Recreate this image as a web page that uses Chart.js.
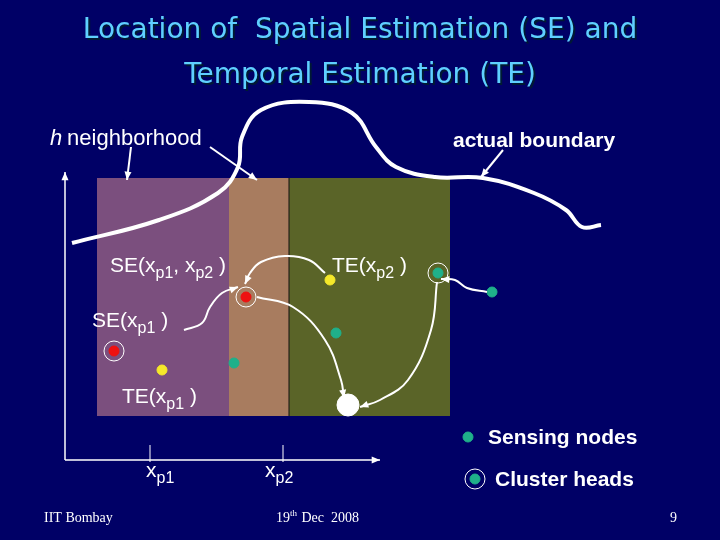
<!DOCTYPE html>
<html>
<head>
<meta charset="utf-8">
<script src="https://cdn.jsdelivr.net/npm/chart.js@4"></script>
<style>
  body { margin: 0; background: #000066; }
  canvas { display: block; }
</style>
</head>
<body>
<canvas id="slide" width="720" height="540"></canvas>
<script>
// regions: [x0, x1, y0, y1, colour]
const regions = [
  [97, 229, 178, 416, "#7b4f7e"],
  [229, 289, 178, 416, "#a87c5f"],
  [289, 450, 178, 416, "#5a6428"]
];
const boundary = [[72,243],[159,220],[218,193],[238,167],[242,137],[261,110],[309,102],[352,113],[376,147],[396,167],[435,177],[483,178],[534,193],[566,210],[582,227],[601,225]];
const arrows = [
  [[131,147],[127,180]],
  [[210,147],[257,180]],
  [[503,150],[481,177]],
  [[325,273],[309,260],[285,256],[261,262],[250,273],[245,284]],
  [[184,330],[202,323],[210,307],[222,293],[238,287]],
  [[257,297],[293,307],[325,340],[341,380],[344,398]],
  [[437,282],[431,330],[408,380],[380,400],[360,407]],
  [[487,292],[467,288],[455,280],[441,279]],
  [[65,460],[65,172]],
  [[65,460],[380,460]]
];
const sensingNodes = [[234,363],[336,333],[492,292],[468,437]];
const yellowNodes = [[330,280],[162,370]];
const redHeads = [[114,351],[246,297]];
const tealHeads = [[438,273],[475,479]];
const sinkNode = [[348,405]];
const tickX = [150, 283];

const pts = a => a.map(p => ({x: p[0], y: p[1]}));

// labels: [text, subscript, rest, x, y, sub2, rest2]
const labels = [
  ["SE(x", "p1", ", x", 110, 272, "p2", " )"],
  ["TE(x", "p2", " )", 332, 272],
  ["SE(x", "p1", " )", 92, 327],
  ["TE(x", "p1", " )", 122, 403],
  ["x", "p1", "", 146, 477],
  ["x", "p2", "", 265, 477]
];

const drawing = {
  id: "drawing",
  beforeDatasetsDraw(chart) {
    const c = chart.ctx, sx = chart.scales.x, sy = chart.scales.y;
    regions.forEach(r => {
      c.fillStyle = r[4];
      c.fillRect(sx.getPixelForValue(r[0]), sy.getPixelForValue(r[2]),
        sx.getPixelForValue(r[1]) - sx.getPixelForValue(r[0]),
        sy.getPixelForValue(r[3]) - sy.getPixelForValue(r[2]));
    });
    c.strokeStyle = "#111"; c.lineWidth = 1;
    c.beginPath(); c.moveTo(sx.getPixelForValue(289), sy.getPixelForValue(178));
    c.lineTo(sx.getPixelForValue(289), sy.getPixelForValue(416)); c.stroke();
    c.strokeStyle = "#fff";
    tickX.forEach(t => {
      c.beginPath(); c.moveTo(sx.getPixelForValue(t), sy.getPixelForValue(445));
      c.lineTo(sx.getPixelForValue(t), sy.getPixelForValue(462)); c.stroke();
    });
  },
  afterDatasetsDraw(chart) {
    const c = chart.ctx, sx = chart.scales.x, sy = chart.scales.y;
    // arrowheads
    chart.data.datasets.forEach((ds, i) => {
      if (!ds.arrow) return;
      const d = chart.getDatasetMeta(i).data;
      const a = d[d.length - 2], b = d[d.length - 1];
      const ang = Math.atan2(b.y - a.y, b.x - a.x);
      c.fillStyle = "#fff";
      c.beginPath();
      c.moveTo(b.x, b.y);
      c.lineTo(b.x - 9 * Math.cos(ang - 0.4), b.y - 9 * Math.sin(ang - 0.4));
      c.lineTo(b.x - 9 * Math.cos(ang + 0.4), b.y - 9 * Math.sin(ang + 0.4));
      c.closePath(); c.fill();
    });
    // rings around cluster heads
    c.strokeStyle = "#fff"; c.lineWidth = 1;
    redHeads.concat(tealHeads).forEach(p => {
      c.beginPath();
      c.arc(sx.getPixelForValue(p[0]), sy.getPixelForValue(p[1]), 10, 0, 2 * Math.PI);
      c.stroke();
    });
    // title
    c.textAlign = "center"; c.textBaseline = "alphabetic";
    c.font = "28px 'DejaVu Sans'";
    [["Location of  Spatial Estimation (SE) and", 38], ["Temporal Estimation (TE)", 83]].forEach(t => {
      c.fillStyle = "#001a33"; c.fillText(t[0], 362, t[1] + 2);
      c.fillStyle = "#5fd0ff"; c.fillText(t[0], 360, t[1]);
    });
    // text labels
    c.textAlign = "left"; c.fillStyle = "#fff";
    c.font = "italic 22px 'Liberation Sans'"; c.fillText("h", 50, 145);
    c.font = "22px 'Liberation Sans'"; c.fillText(" neighborhood", 61, 145);
    c.font = "bold 21px 'Liberation Sans'"; c.fillText("actual boundary", 453, 147);
    c.fillText("Sensing nodes", 488, 444);
    c.fillText("Cluster heads", 495, 486);
    labels.forEach(l => {
      let x = l[3];
      c.font = "21px 'Liberation Sans'"; c.fillText(l[0], x, l[4]); x += c.measureText(l[0]).width;
      c.font = "16px 'Liberation Sans'"; c.fillText(l[1], x, l[4] + 6); x += c.measureText(l[1]).width;
      c.font = "21px 'Liberation Sans'"; c.fillText(l[2], x, l[4]); x += c.measureText(l[2]).width;
      if (l[5]) {
        c.font = "16px 'Liberation Sans'"; c.fillText(l[5], x, l[4] + 6); x += c.measureText(l[5]).width;
        c.font = "21px 'Liberation Sans'"; c.fillText(l[6], x, l[4]);
      }
    });
    c.font = "14px 'Liberation Serif'";
    c.fillText("IIT Bombay", 44, 522);
    c.fillText("19", 276, 522);
    c.font = "9px 'Liberation Serif'"; c.fillText("th", 290, 516);
    c.font = "14px 'Liberation Serif'"; c.fillText(" Dec  2008", 298, 522);
    c.fillText("9", 670, 522);
  }
};

const lineSet = (p, arrow, w) => ({
  type: "line", data: pts(p), borderColor: "#fff", borderWidth: w, pointRadius: 0,
  tension: 0.4, fill: false, arrow: arrow
});
const dotSet = (p, col, r) => ({
  type: "scatter", data: pts(p), backgroundColor: col, borderColor: col, pointRadius: r
});

const datasets = [lineSet(boundary, false, 4)]
  .concat(arrows.map(a => lineSet(a, true, a.length === 2 && a[0][0] === 65 ? 1.5 : 2)))
  .concat([
    dotSet(sensingNodes, "#1fb08a", 5),
    dotSet(yellowNodes, "#f5e82a", 5),
    dotSet(redHeads, "#ee1111", 5),
    dotSet(tealHeads, "#1fb08a", 5),
    dotSet(sinkNode, "#ffffff", 11)
  ]);

new Chart(document.getElementById("slide"), {
  type: "scatter",
  data: { datasets: datasets },
  options: {
    responsive: false,
    animation: false,
    layout: { padding: 0, autoPadding: false },
    plugins: { legend: { display: false }, tooltip: { enabled: false } },
    scales: {
      x: { type: "linear", min: 0, max: 720, display: false },
      y: { type: "linear", min: 0, max: 540, reverse: true, display: false }
    }
  },
  plugins: [drawing]
});
</script>
</body>
</html>
